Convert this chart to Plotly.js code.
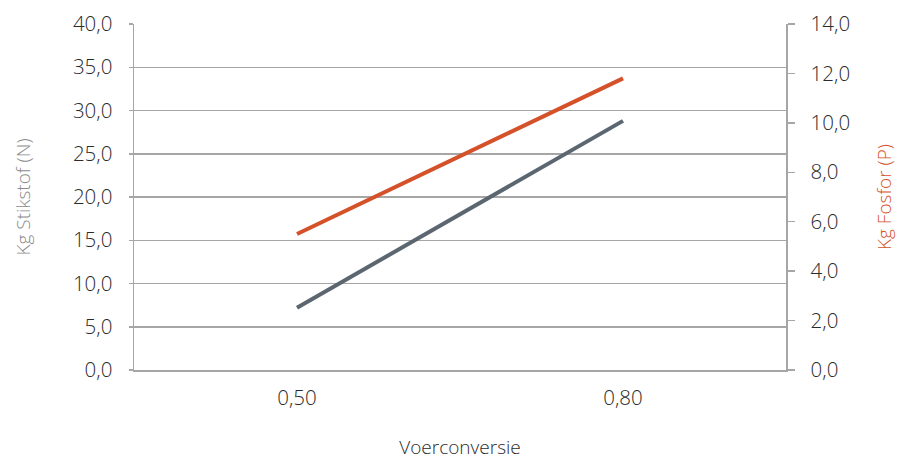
<!DOCTYPE html>
<html><head><meta charset="utf-8">
<script src="https://cdn.plot.ly/plotly-3.0.1.min.js"></script>
<style>body{margin:0}#c{width:898px;height:460px}</style>
</head><body><div id="c"></div>
<script>
const categories = ["0,50", "0,80"];
const stikstof = [7.2, 28.8];
const fosfor = [5.5, 11.8];
const leftTicks = [0,5,10,15,20,25,30,35,40];
const rightTicks = [0,2,4,6,8,10,12,14];
const fmt = v => v.toFixed(1).replace('.', ',');

const fam = "'Open Sans', 'Noto Sans', sans-serif";
const font = {family: fam, size: 20.5, color: "#2b2b2b", weight: 300};
const data = [
  {x: categories, y: stikstof, type: "scatter", mode: "lines", name: "Stikstof",
   line: {color: "#5b6670", width: 4}, yaxis: "y"},
  {x: categories, y: fosfor, type: "scatter", mode: "lines", name: "Fosfor",
   line: {color: "#d5512a", width: 4}, yaxis: "y2"}
];
const layout = {
  width: 898, height: 460,
  margin: {l: 134, r: 112, t: 24, b: 90},
  paper_bgcolor: "#fff", plot_bgcolor: "#fff",
  showlegend: false, font: font,
  xaxis: {type: "category", range: [-0.5, 1.5], showline: true, linecolor: "#a6a6a6", linewidth: 1.5,
    ticks: "", showgrid: false, tickfont: font, ticklabelstandoff: 9,
    title: {text: "Voerconversie", font: {family: fam, size: 19, weight: 300, color: "#2b2b2b"}, standoff: 33}},
  yaxis: {range: [0, 40], tickvals: leftTicks, ticktext: leftTicks.map(fmt),
    showline: true, linecolor: "#a6a6a6", linewidth: 1.5, ticks: "outside", ticklen: 4,
    tickcolor: "#a6a6a6", tickwidth: 1.5,
    showgrid: true, gridcolor: "#a6a6a6", gridwidth: 1.5, zeroline: false,
    tickfont: font, ticklabelstandoff: 12,
    title: {text: "Kg Stikstof (N)", font: {family: fam, size: 19, weight: 300, color: "#8a8a8a"}, standoff: 37}},
  yaxis2: {range: [0, 14], tickvals: rightTicks, ticktext: rightTicks.map(fmt),
    overlaying: "y", side: "right", showline: true, linecolor: "#a6a6a6", linewidth: 1.5,
    ticks: "outside", ticklen: 7, tickcolor: "#a6a6a6", tickwidth: 1.5,
    showgrid: false, zeroline: false, tickfont: font, ticklabelstandoff: 12,
    title: {text: "Kg Fosfor (P)", font: {family: fam, size: 19, weight: 300, color: "#d5512a"}, standoff: 28}}
};
Plotly.newPlot("c", data, layout, {displayModeBar: false, staticPlot: true});
</script></body></html>
